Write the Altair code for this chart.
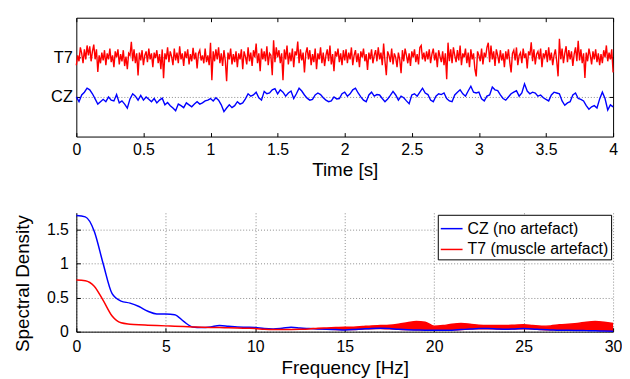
import altair as alt
import numpy as np
import pandas as pd

# ---------------- top panel: EEG traces ----------------
channel_names = ["CZ", "T7"]
channel_offsets = [0, 1]
time_ticks = [0, 0.5, 1, 1.5, 2, 2.5, 3, 3.5, 4]

# T7 trace (muscle artefact), sampled every 0.01 s from 0 to 4 s
t7_trace = [
    -0.20, 0.05, -0.10, 0.25, 0.10, -0.15, 0.20, -0.05, 0.30, 0.05, 0.28, -0.10, 0.15, 0.32, -0.05, 0.20, -0.37, 0.05, -0.15, 0.12,
    -0.08, 0.18, -0.20, 0.10, -0.05, 0.22, -0.12, 0.05, -0.25, 0.15, 0.00, 0.20, -0.18, 0.08, -0.10, 0.18, -0.22, 0.02, -0.30, 0.10,
    0.05, 0.39, -0.10, 0.20, -0.15, 0.10, -0.46, 0.12, -0.08, 0.18, -0.20, 0.05, 0.15, -0.12, 0.22, -0.05, 0.10, -0.25, 0.12, -0.02,
    0.18, -0.15, 0.08, -0.30, 0.20, -0.53, 0.10, -0.05, 0.25, -0.12, 0.15, 0.02, -0.20, 0.22, -0.08, 0.12, -0.15, 0.28, -0.05, 0.10,
    -0.22, 0.15, -0.02, 0.20, -0.18, 0.08, -0.10, 0.24, -0.05, 0.12, -0.28, 0.10, 0.18, -0.08, 0.05, -0.15, 0.22, -0.12, 0.05, -0.20,
    0.37, -0.58, 0.15, -0.10, 0.20, -0.05, 0.25, -0.15, 0.10, -0.22, 0.18, -0.08, -0.60, 0.12, -0.05, 0.22, -0.18, 0.08, -0.12, 0.15,
    -0.25, 0.10, -0.05, 0.20, -0.30, 0.15, 0.02, -0.18, 0.25, -0.10, 0.12, -0.22, 0.18, 0.00, 0.35, -0.15, 0.10, -0.35, 0.22, -0.05,
    0.15, -0.10, 0.28, -0.20, 0.10, 0.05, -0.45, 0.43, -0.12, 0.25, 0.00, 0.18, -0.15, 0.10, -0.58, 0.20, -0.05, 0.30, -0.18, 0.12,
    -0.10, 0.22, -0.25, 0.15, 0.05, 0.40, -0.15, 0.20, -0.08, 0.12, -0.38, 0.10, 0.25, -0.05, 0.18, -0.20, 0.08, -0.12, 0.22, -0.30,
    0.10, -0.05, 0.25, -0.15, 0.12, -0.22, 0.05, 0.20, -0.10, 0.30, -0.18, 0.08, -0.35, 0.15, 0.02, 0.22, -0.12, 0.10, -0.20, 0.18,
    -0.08, 0.20, -0.15, 0.12, -0.05, 0.25, -0.20, 0.05, 0.18, -0.12, 0.10, -0.25, 0.15, 0.00, 0.22, -0.10, 0.08, -0.32, 0.12, -0.05,
    0.20, -0.15, 0.05, 0.18, -0.10, 0.25, -0.05, 0.12, -0.20, 0.35, -0.10, -0.45, 0.15, 0.05, -0.12, 0.22, -0.18, 0.10, 0.00, -0.25,
    0.12, -0.05, -0.40, 0.18, -0.10, 0.22, 0.05, -0.15, 0.10, -0.22, 0.15, 0.00, 0.20, -0.12, 0.08, -0.18, 0.25, 0.30, -0.05, 0.12,
    -0.10, 0.15, -0.05, 0.20, -0.15, 0.08, 0.22, -0.08, 0.12, -0.25, 0.18, 0.02, -0.12, 0.15, -0.20, 0.10, -0.55, 0.37, -0.10, 0.20,
    -0.15, 0.25, 0.05, -0.12, 0.18, -0.08, 0.30, -0.20, 0.10, 0.00, 0.22, -0.15, 0.12, -0.25, 0.20, -0.05, 0.10, -0.30, -0.48, 0.15,
    0.05, -0.10, 0.22, -0.18, 0.12, 0.00, 0.25, 0.37, -0.12, 0.30, -0.05, 0.15, -0.22, 0.20, 0.05, -0.15, 0.18, -0.08, 0.10, -0.25,
    0.15, -0.05, 0.20, -0.12, -0.38, 0.10, 0.18, -0.08, 0.25, -0.20, 0.05, 0.12, -0.15, 0.22, -0.02, 0.10, -0.28, 0.15, 0.05, 0.38,
    -0.10, 0.20, -0.18, 0.08, 0.15, -0.05, 0.22, -0.25, 0.10, 0.00, 0.18, -0.12, 0.25, -0.08, 0.12, -0.20, 0.05, 0.20, -0.10, -0.48,
    0.47, -0.05, 0.22, -0.15, 0.10, 0.28, -0.12, 0.18, -0.05, 0.15, -0.22, 0.08, 0.25, -0.10, 0.42, -0.08, 0.20, -0.15, 0.10, -0.52,
    0.12, -0.10, 0.22, 0.05, -0.18, 0.15, -0.05, 0.20, -0.12, 0.10, -0.20, 0.08, -0.15, 0.18, 0.00, 0.30, -0.10, 0.12, -0.05, 0.20,
    -0.38,
]

# CZ trace (no artefact), sampled every 0.02 s from 0 to 4 s
cz_trace = [
    0.00, -0.12, 0.05, 0.12, 0.22, 0.18, 0.08, -0.05, -0.18, -0.12,
    -0.06, -0.12, 0.00, -0.08, -0.10, 0.06, -0.15, -0.10, -0.18, -0.28,
    -0.05, 0.08, 0.02, -0.08, 0.04, -0.08, 0.00, -0.06, -0.12, -0.04,
    -0.15, -0.08, -0.03, -0.20, -0.14, -0.22, -0.28, -0.35, -0.18, -0.22,
    -0.27, -0.15, -0.20, -0.25, -0.18, -0.12, -0.18, -0.15, -0.10, -0.08,
    -0.04, -0.10, -0.02, -0.08, -0.20, -0.37, -0.28, -0.20, -0.27, -0.22,
    -0.12, -0.18, -0.15, -0.05, 0.08, 0.02, 0.05, 0.12, -0.02, -0.08,
    0.14, 0.08, 0.10, 0.18, 0.21, 0.08, 0.18, 0.12, 0.02, 0.10,
    0.15, -0.04, 0.08, 0.22, 0.15, 0.05, -0.03, -0.08, -0.06, 0.05,
    0.10, 0.06, -0.02, -0.08, -0.12, -0.10, 0.00, -0.05, -0.04, 0.08,
    0.12, 0.02, 0.08, 0.18, 0.22, 0.10, 0.00, -0.08, -0.12, 0.05,
    0.12, 0.02, 0.06, 0.05, -0.04, -0.12, -0.05, 0.04, 0.14, 0.05,
    -0.08, 0.02, -0.02, -0.10, -0.17, 0.05, 0.08, 0.02, 0.12, 0.22,
    0.10, 0.06, -0.08, -0.12, 0.02, 0.08, 0.06, 0.10, -0.04, -0.10,
    -0.12, 0.05, 0.12, 0.18, 0.08, 0.02, 0.15, 0.27, 0.12, 0.10,
    0.12, -0.05, -0.10, 0.02, 0.05, 0.25, 0.18, 0.16, 0.05, -0.04,
    -0.08, 0.00, 0.08, 0.12, 0.16, 0.02, 0.10, 0.33, 0.15, 0.08,
    0.12, 0.10, 0.02, 0.05, -0.02, -0.06, -0.10, 0.05, 0.12, 0.10,
    0.08, -0.10, -0.21, -0.15, -0.12, 0.05, 0.10, -0.04, -0.06, -0.10,
    -0.22, -0.31, -0.25, -0.22, -0.28, -0.05, 0.12, -0.04, -0.33, -0.20,
    -0.25,
]

# ---------------- bottom panel: spectral density ----------------
series_names = ["CZ (no artefact)", "T7 (muscle artefact)"]
freq_ticks = [0, 5, 10, 15, 20, 25, 30]
psd_ticks = [0, 0.5, 1, 1.5]

# 0 .. 30 Hz every 0.5 Hz
cz_psd = [
    1.71, 1.69, 1.48, 1.00, 0.56, 0.45, 0.42, 0.37, 0.30, 0.26,
    0.26, 0.25, 0.15, 0.07, 0.06, 0.07, 0.09, 0.08, 0.07, 0.065,
    0.06, 0.045, 0.04, 0.05, 0.065, 0.055, 0.045, 0.04, 0.035, 0.03,
    0.025, 0.03, 0.04, 0.048, 0.05, 0.045, 0.035, 0.028, 0.025, 0.022,
    0.02, 0.02, 0.022, 0.03, 0.038, 0.045, 0.045, 0.04, 0.035, 0.04,
    0.045, 0.04, 0.03, 0.025, 0.02, 0.02, 0.018, 0.015, 0.012, 0.008,
    0.005,
]
t7_psd = [
    0.76, 0.75, 0.67, 0.46, 0.23, 0.13, 0.11, 0.10, 0.095, 0.09,
    0.085, 0.08, 0.075, 0.07, 0.065, 0.062, 0.06, 0.058, 0.055, 0.05,
    0.045, 0.035, 0.03, 0.03, 0.032, 0.035, 0.04, 0.05, 0.055, 0.06,
    0.065, 0.065, 0.075, 0.085, 0.09, 0.095, 0.11, 0.13, 0.15, 0.14,
    0.08, 0.09, 0.11, 0.12, 0.11, 0.095, 0.09, 0.09, 0.09, 0.095,
    0.10, 0.09, 0.08, 0.085, 0.10, 0.11, 0.12, 0.14, 0.15, 0.14,
    0.12,
]
# troughs of the fast-oscillating T7 spectrum, 13 .. 30 Hz every 0.5 Hz
t7_band_low = [
    0.040, 0.030, 0.025, 0.022, 0.020, 0.022, 0.028, 0.032, 0.035, 0.030,
    0.025, 0.020, 0.018, 0.016, 0.015, 0.015, 0.018, 0.022, 0.028, 0.032,
    0.032, 0.028, 0.025, 0.028, 0.032, 0.028, 0.022, 0.018, 0.015, 0.014,
    0.012, 0.010, 0.008, 0.006, 0.004,
]

# ---------------- tables ----------------
t7_df = pd.DataFrame({
    "t": np.linspace(0, 4, len(t7_trace)),
    "v": np.array(t7_trace) + channel_offsets[1],
})
cz_df = pd.DataFrame({
    "t": np.linspace(0, 4, len(cz_trace)),
    "v": np.array(cz_trace) + channel_offsets[0],
})
spec_df = pd.concat([
    pd.DataFrame({"f": np.linspace(0, 30, len(cz_psd)), "v": cz_psd, "series": series_names[0]}),
    pd.DataFrame({"f": np.linspace(0, 30, len(t7_psd)), "v": t7_psd, "series": series_names[1]}),
])
band_freq = np.linspace(13, 30, len(t7_band_low))
band_df = pd.DataFrame({
    "f": band_freq,
    "lo": t7_band_low,
    "hi": np.array(t7_psd)[-len(t7_band_low):],
})

W, H = 542, 120
FONT = "Liberation Sans"
GRID = dict(gridDash=[1, 2], gridColor="#8c8c8c", gridOpacity=1, gridWidth=1)
TICKS = dict(labels=False, tickSize=4, tickColor="black", tickWidth=1, domain=False, grid=False, title=None)

label_expr = (f"datum.value == {channel_offsets[1]} ? '{channel_names[1]}' : "
              f"(datum.value == {channel_offsets[0]} ? '{channel_names[0]}' : '')")

xs_top = alt.Scale(domain=[0, 4], nice=False, zero=False)
ys_top = alt.Scale(domain=[-1, 2], nice=False, zero=False)

red = alt.Chart(t7_df).mark_line(color="#ff0000", strokeWidth=1.4).encode(
    x=alt.X("t:Q", scale=xs_top, axis=alt.Axis(
        orient="bottom", values=time_ticks, title="Time [s]", tickSize=0, domain=False,
        grid=False, labelPadding=5, titlePadding=3, labelFlush=False, format=".1~f")),
    y=alt.Y("v:Q", scale=ys_top, axis=alt.Axis(
        orient="left", values=channel_offsets, labelExpr=label_expr, title=None,
        tickSize=0, domain=False, labelPadding=4, labelFontSize=16.5, grid=True, **GRID)),
)
blue = alt.Chart(cz_df).mark_line(color="#0000ff", strokeWidth=1.4).encode(
    x=alt.X("t:Q", scale=xs_top, axis=alt.Axis(orient="top", offset=-H, values=time_ticks, **TICKS)),
    y=alt.Y("v:Q", scale=ys_top, axis=alt.Axis(orient="right", offset=-W, values=channel_offsets, **TICKS)),
)
ghost = alt.Chart(cz_df).mark_point(opacity=0).encode(
    x=alt.X("t:Q", scale=xs_top, axis=alt.Axis(orient="bottom", offset=-H, values=time_ticks, **TICKS)),
    y=alt.Y("v:Q", scale=ys_top, axis=alt.Axis(orient="left", offset=-W, values=channel_offsets, **TICKS)),
)
top = alt.layer(red, blue, ghost).resolve_axis(x="independent", y="independent").properties(
    width=W, height=H, view=alt.ViewBackground(stroke="black", strokeWidth=1))

xs_bot = alt.Scale(domain=[0, 30], nice=False, zero=False)
ys_bot = alt.Scale(domain=[0, 1.75], nice=False, zero=False)

band = alt.Chart(band_df).mark_area(color="#ff0000", interpolate="monotone", opacity=1).encode(
    x=alt.X("f:Q", scale=xs_bot, axis=alt.Axis(
        orient="bottom", values=freq_ticks, title="Frequency [Hz]", tickSize=0,
        domain=True, domainColor="black", domainWidth=1, labelPadding=7, titlePadding=4,
        labelFlush=False, grid=True, **GRID)),
    y=alt.Y("lo:Q", scale=ys_bot, axis=alt.Axis(
        orient="left", values=psd_ticks, title="Spectral Density", tickSize=0,
        domain=True, domainColor="black", domainWidth=1, labelPadding=8, titlePadding=14,
        titleY=71, grid=True, format=".1~f", **GRID)),
    y2="hi:Q",
)
lines = alt.Chart(spec_df).mark_line(interpolate="monotone", strokeWidth=1.5).encode(
    x=alt.X("f:Q", scale=xs_bot, axis=alt.Axis(orient="top", offset=-H, values=freq_ticks, **TICKS)),
    y=alt.Y("v:Q", scale=ys_bot, axis=alt.Axis(orient="right", offset=-W, values=psd_ticks, **TICKS)),
    color=alt.Color("series:N", title=None,
                    scale=alt.Scale(domain=series_names, range=["#0000ff", "#ff0000"]),
                    legend=alt.Legend(orient="none", legendX=365, legendY=2,
                                      strokeColor="black", fillColor="white", padding=2,
                                      symbolType="stroke", symbolSize=484, symbolStrokeWidth=1.5,
                                      labelFontSize=16, labelOffset=4, rowPadding=1,
                                      cornerRadius=0)),
)
bottom = alt.layer(band, lines).resolve_axis(x="independent", y="independent").properties(
    width=W, height=H, view=alt.ViewBackground(strokeOpacity=0))

chart = alt.vconcat(top, bottom, spacing=32).resolve_legend(color="independent").properties(
    padding={"left": 5, "top": 7, "right": 0, "bottom": 0}
).configure(font=FONT).configure_axis(
    labelFont=FONT, titleFont=FONT, labelFontSize=16, titleFontSize=19,
    labelColor="black", titleColor="black", titleFontWeight="normal",
).configure_legend(labelFont=FONT, labelColor="black")

chart.save("out.html", embed_options={"renderer": "svg", "actions": False})
